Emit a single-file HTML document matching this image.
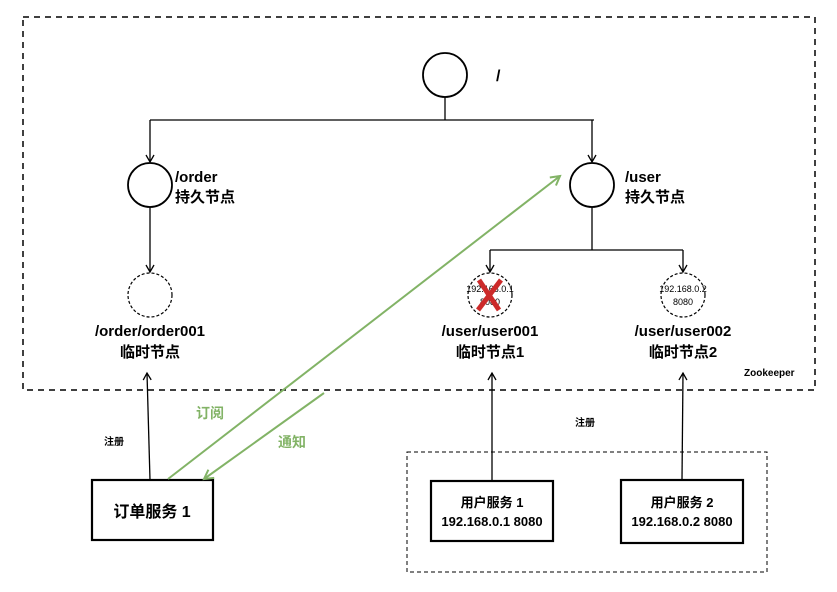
<!DOCTYPE html>
<html><head><meta charset="utf-8"><style>
html,body{margin:0;padding:0;background:#fff;}
svg{display:block;}
text{font-family:"Liberation Sans","Noto Sans CJK SC",sans-serif;}
</style></head><body>
<svg width="837" height="592" viewBox="0 0 837 592" xmlns="http://www.w3.org/2000/svg">
<defs>
<marker id="a" markerWidth="10" markerHeight="10" refX="8" refY="5" orient="auto" markerUnits="userSpaceOnUse"><path d="M1,1 L8,5 L1,9" fill="none" stroke="#000" stroke-width="1.3"/></marker>
<marker id="g" markerWidth="12" markerHeight="12" refX="10" refY="6" orient="auto" markerUnits="userSpaceOnUse"><path d="M1,1 L10,6 L1,11" fill="none" stroke="#82b366" stroke-width="2"/></marker>
</defs>
<rect x="23" y="17" width="792" height="373" fill="none" stroke="#000" stroke-width="1.5" stroke-dasharray="6,5"/>
<text x="744" y="376" font-size="10" font-weight="bold">Zookeeper</text>
<circle cx="445" cy="75" r="22" fill="none" stroke="#000" stroke-width="1.8"/>
<text x="496" y="81" font-size="16" font-weight="bold">/</text>
<line x1="445" y1="97" x2="445" y2="120" stroke="#000" stroke-width="1.3"/>
<line x1="150" y1="120" x2="594" y2="120" stroke="#000" stroke-width="1.3"/>
<line x1="150" y1="120" x2="150" y2="162" stroke="#000" stroke-width="1.3" marker-end="url(#a)"/>
<line x1="592" y1="120" x2="592" y2="162" stroke="#000" stroke-width="1.3" marker-end="url(#a)"/>
<circle cx="150" cy="185" r="22" fill="none" stroke="#000" stroke-width="1.8"/>
<text x="175" y="182" font-size="15" font-weight="bold">/order</text>
<text x="175" y="202" font-size="15" font-weight="bold">持久节点</text>
<line x1="150" y1="207" x2="150" y2="272" stroke="#000" stroke-width="1.3" marker-end="url(#a)"/>
<circle cx="150" cy="295" r="22" fill="none" stroke="#000" stroke-width="1.2" stroke-dasharray="3,2"/>
<text x="150" y="336" font-size="15" font-weight="bold" text-anchor="middle">/order/order001</text>
<text x="150" y="357" font-size="15" font-weight="bold" text-anchor="middle">临时节点</text>
<circle cx="592" cy="185" r="22" fill="none" stroke="#000" stroke-width="1.8"/>
<text x="625" y="182" font-size="15" font-weight="bold">/user</text>
<text x="625" y="202" font-size="15" font-weight="bold">持久节点</text>
<line x1="592" y1="207" x2="592" y2="250" stroke="#000" stroke-width="1.3"/>
<line x1="490" y1="250" x2="683" y2="250" stroke="#000" stroke-width="1.3"/>
<line x1="490" y1="250" x2="490" y2="272" stroke="#000" stroke-width="1.3" marker-end="url(#a)"/>
<line x1="683" y1="250" x2="683" y2="272" stroke="#000" stroke-width="1.3" marker-end="url(#a)"/>
<circle cx="490" cy="295" r="22" fill="none" stroke="#000" stroke-width="1.2" stroke-dasharray="3,2"/>
<text x="490" y="292" font-size="9" text-anchor="middle">192.168.0.1</text>
<text x="490" y="305" font-size="9" text-anchor="middle">8080</text>
<line x1="479" y1="280" x2="499" y2="310" stroke="#cc2a2a" stroke-width="5"/>
<line x1="501" y1="280" x2="478" y2="310" stroke="#cc2a2a" stroke-width="5"/>
<circle cx="683" cy="295" r="22" fill="none" stroke="#000" stroke-width="1.2" stroke-dasharray="3,2"/>
<text x="683" y="292" font-size="9" text-anchor="middle">192.168.0.2</text>
<text x="683" y="305" font-size="9" text-anchor="middle">8080</text>
<text x="490" y="336" font-size="15" font-weight="bold" text-anchor="middle">/user/user001</text>
<text x="490" y="357" font-size="15" font-weight="bold" text-anchor="middle">临时节点1</text>
<text x="683" y="336" font-size="15" font-weight="bold" text-anchor="middle">/user/user002</text>
<text x="683" y="357" font-size="15" font-weight="bold" text-anchor="middle">临时节点2</text>
<rect x="92" y="480" width="121" height="60" fill="#fff" stroke="#000" stroke-width="2.2"/>
<text x="152" y="517" font-size="16" font-weight="bold" text-anchor="middle">订单服务 1</text>
<line x1="150" y1="480" x2="147" y2="373" stroke="#000" stroke-width="1.3" marker-end="url(#a)"/>
<text x="104" y="445" font-size="10" font-weight="bold">注册</text>
<line x1="168" y1="479" x2="560" y2="176" stroke="#82b366" stroke-width="2" marker-end="url(#g)"/>
<line x1="324" y1="393" x2="204" y2="479" stroke="#82b366" stroke-width="2" marker-end="url(#g)"/>
<text x="196" y="418" font-size="14" font-weight="bold" fill="#82b366">订阅</text>
<text x="278" y="447" font-size="14" font-weight="bold" fill="#82b366">通知</text>
<rect x="407" y="452" width="360" height="120" fill="none" stroke="#000" stroke-width="1" stroke-dasharray="4,3"/>
<rect x="431" y="481" width="122" height="60" fill="#fff" stroke="#000" stroke-width="2.2"/>
<text x="492" y="507" font-size="13" font-weight="bold" text-anchor="middle">用户服务 1</text>
<text x="492" y="526" font-size="13" font-weight="bold" text-anchor="middle">192.168.0.1 8080</text>
<rect x="621" y="480" width="122" height="63" fill="#fff" stroke="#000" stroke-width="2.2"/>
<text x="682" y="507" font-size="13" font-weight="bold" text-anchor="middle">用户服务 2</text>
<text x="682" y="526" font-size="13" font-weight="bold" text-anchor="middle">192.168.0.2 8080</text>
<line x1="492" y1="481" x2="492" y2="373" stroke="#000" stroke-width="1.3" marker-end="url(#a)"/>
<line x1="682" y1="480" x2="683" y2="373" stroke="#000" stroke-width="1.3" marker-end="url(#a)"/>
<text x="575" y="426" font-size="10" font-weight="bold">注册</text>
</svg>
</body></html>
